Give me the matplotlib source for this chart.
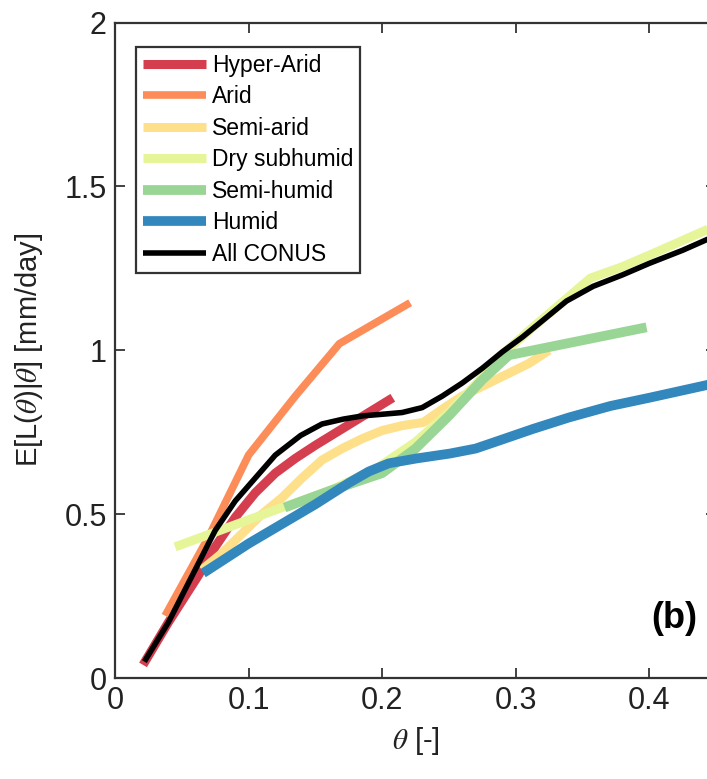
import matplotlib
matplotlib.use("Agg")
import matplotlib.pyplot as plt

plt.rcParams['font.family'] = ['Liberation Sans', 'DejaVu Sans']
plt.rcParams['mathtext.fontset'] = 'stix'

# ---- data ----
labels = ["Hyper-Arid", "Arid", "Semi-arid", "Dry subhumid", "Semi-humid", "Humid", "All CONUS"]
colors = ["#d53e4f", "#fc8d59", "#fee08b", "#e6f598", "#99d594", "#3288bd", "#000000"]

hyper_x = [0.021, 0.04, 0.062, 0.075, 0.09, 0.105, 0.12, 0.135, 0.15, 0.17, 0.19, 0.208]
hyper_y = [0.04, 0.17, 0.31, 0.40, 0.49, 0.565, 0.625, 0.67, 0.71, 0.76, 0.81, 0.855]

arid_x = [0.0375, 0.07, 0.1, 0.135, 0.168, 0.221]
arid_y = [0.19, 0.43, 0.68, 0.86, 1.02, 1.145]

semiarid_x = [0.065, 0.08, 0.095, 0.11, 0.125, 0.14, 0.155, 0.17, 0.185, 0.2, 0.215,
              0.231, 0.245, 0.26, 0.275, 0.29, 0.31, 0.325]
semiarid_y = [0.33, 0.38, 0.44, 0.50, 0.55, 0.61, 0.665, 0.70, 0.73, 0.755, 0.77,
              0.78, 0.82, 0.86, 0.89, 0.92, 0.96, 1.0]

dry_x = [0.045, 0.085, 0.125, 0.16, 0.196, 0.225, 0.25, 0.27, 0.288, 0.31, 0.333,
         0.356, 0.38, 0.40, 0.425, 0.45]
dry_y = [0.40, 0.46, 0.52, 0.57, 0.64, 0.72, 0.81, 0.895, 0.98, 1.06, 1.14,
         1.22, 1.255, 1.29, 1.335, 1.38]

semihum_x = [0.127, 0.16, 0.2, 0.225, 0.25, 0.275, 0.295, 0.398]
semihum_y = [0.52, 0.57, 0.625, 0.70, 0.80, 0.91, 0.985, 1.07]

humid_x = [0.066, 0.1, 0.125, 0.15, 0.175, 0.19, 0.205, 0.226, 0.251, 0.27, 0.288,
           0.313, 0.34, 0.371, 0.40, 0.45]
humid_y = [0.32, 0.41, 0.47, 0.53, 0.595, 0.63, 0.655, 0.67, 0.685, 0.70, 0.725,
           0.76, 0.795, 0.83, 0.855, 0.90]

all_x = [0.022, 0.04, 0.06, 0.075, 0.09, 0.105, 0.12, 0.139, 0.155, 0.171, 0.186,
         0.201, 0.215, 0.23, 0.245, 0.26, 0.275, 0.29, 0.305, 0.32, 0.338, 0.358,
         0.38, 0.40, 0.425, 0.45]
all_y = [0.05, 0.17, 0.33, 0.45, 0.54, 0.61, 0.68, 0.74, 0.775, 0.79, 0.80,
         0.805, 0.81, 0.825, 0.86, 0.90, 0.945, 0.995, 1.04, 1.09, 1.15, 1.195,
         1.23, 1.265, 1.305, 1.35]

xs = [hyper_x, arid_x, semiarid_x, dry_x, semihum_x, humid_x, all_x]
ys = [hyper_y, arid_y, semiarid_y, dry_y, semihum_y, humid_y, all_y]
widths = [6.5, 5.5, 6.5, 6.5, 7.0, 7.0, 4.0]

x_ticks = [0, 0.1, 0.2, 0.3, 0.4]
x_ticklabels = ["0", "0.1", "0.2", "0.3", "0.4"]
y_ticks = [0, 0.5, 1, 1.5, 2]
y_ticklabels = ["0", "0.5", "1", "1.5", "2"]

# ---- figure ----
W, H = 707, 779
fig = plt.figure(figsize=(W / 100, H / 100), dpi=100)
ax = fig.add_axes([115 / W, (H - 678) / H, 601 / W, 655.5 / H])

for i, (x, y) in enumerate(zip(xs, ys)):
    ax.plot(x, y, color=colors[i], lw=widths[i], label=labels[i],
            solid_capstyle='butt', solid_joinstyle='round', zorder=2 + i)

ax.set_xlim(0, 0.45)
ax.set_ylim(0, 2)
ax.set_xticks(x_ticks)
ax.set_xticklabels(x_ticklabels)
ax.set_yticks(y_ticks)
ax.set_yticklabels(y_ticklabels)
ax.tick_params(direction='in', length=7, width=1.2, labelsize=22, colors='#222222',
               top=True, right=True, pad=6)
for sp in ax.spines.values():
    sp.set_linewidth(1.6)
    sp.set_color('#333333')

ax.set_xlabel(r"$\theta$ [-]", fontsize=21, color='#222222', labelpad=6)
ax.set_ylabel(r"E[L($\theta$)|$\theta$] [mm/day]", fontsize=21, color='#222222', labelpad=14)

ax.text(0.419, 0.183, "(b)", fontsize=26, fontweight='bold', ha='center', va='center')

leg = ax.legend(loc='upper left', bbox_to_anchor=(21 / 601, (678 - 47) / 655.5),
                borderaxespad=0, fontsize=16.5, frameon=True, fancybox=False,
                edgecolor='#333333', handlelength=2.75, handletextpad=0.25,
                labelspacing=0.37, borderpad=0.3)
leg.get_frame().set_linewidth(1.6)
leg.get_frame().set_alpha(1)

fig.savefig("out.png", dpi=100)
